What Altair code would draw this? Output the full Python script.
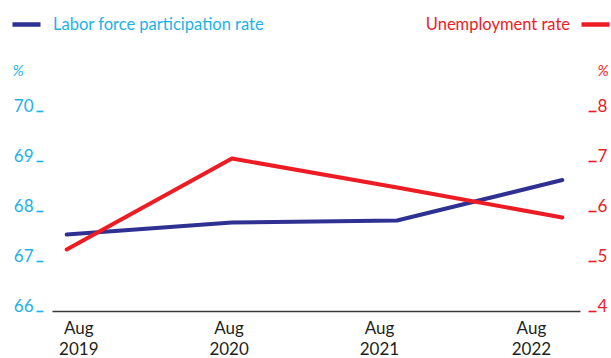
import altair as alt
import pandas as pd

# Annual August readings
periods = ["Aug 2019", "Aug 2020", "Aug 2021", "Aug 2022"]
participation = [67.53, 67.77, 67.81, 68.62]   # labor force participation rate, %
unemployment = [5.23, 7.05, 6.47, 5.87]        # unemployment rate, %

series_names = ["Labor force participation rate", "Unemployment rate"]

BLUE_LINE = "#2e3192"
BLUE_TEXT = "#1cb2e8"
RED = "#ed1c24"
DARK = "#231f20"
FONT = "Lato"

df = pd.DataFrame({
    "idx": list(range(len(periods))),
    "period": periods,
    "lfpr": participation,
    "unemp": unemployment,
    "s1": series_names[0],
    "s2": series_names[1],
})

period_list = "[" + ",".join("'" + p + "'" for p in periods) + "]"

x_enc = alt.X(
    "idx:Q",
    scale=alt.Scale(domain=[-0.089, 3.107], nice=False, zero=False),
    axis=alt.Axis(
        title=None,
        values=[0.07, 0.98, 1.89, 2.81],
        labelExpr="split(" + period_list + "[round(datum.value)], ' ')",
        grid=False,
        ticks=False,
        domain=True,
        domainColor="#3a3a3a",
        domainWidth=1.3,
        labelFont=FONT,
        labelFontSize=17,
        labelColor=DARK,
        labelLineHeight=21,
        labelPadding=9,
        labelAngle=0,
        labelBaseline="top",
    ),
)

left = alt.Chart(df).mark_line(strokeWidth=4, strokeCap="round", strokeJoin="round").encode(
    x=x_enc,
    y=alt.Y(
        "lfpr:Q",
        scale=alt.Scale(domain=[66, 70], nice=False, zero=False),
        axis=alt.Axis(
            orient="left",
            values=[66, 67, 68, 69, 70],
            title="%",
            titleAngle=0,
            titleAlign="left",
            titleBaseline="alphabetic",
            titleX=-31,
            titleY=-36,
            titleFont=FONT,
            titleFontSize=15,
            titleFontStyle="italic",
            titleFontWeight="normal",
            titleColor=BLUE_TEXT,
            grid=False,
            domain=False,
            offset=9,
            tickSize=7,
            tickWidth=1.6,
            tickColor=BLUE_TEXT,
            labelBaseline="alphabetic",
            labelPadding=3,
            labelFont=FONT,
            labelFontSize=17,
            labelColor=BLUE_TEXT,
        ),
    ),
    color=alt.Color(
        "s1:N",
        scale=alt.Scale(domain=[series_names[0]], range=[BLUE_LINE]),
        legend=alt.Legend(
            title=None,
            orient="none",
            legendX=-42,
            legendY=-103,
            padding=0,
            symbolType="stroke",
            symbolSize=784,
            symbolStrokeWidth=4.5,
            labelOffset=10,
            labelFont=FONT,
            labelFontSize=16.5,
            labelColor=BLUE_TEXT,
            labelLimit=400,
        ),
    ),
)

right = alt.Chart(df).mark_line(strokeWidth=4, strokeCap="round", strokeJoin="round").encode(
    x=x_enc,
    y=alt.Y(
        "unemp:Q",
        scale=alt.Scale(domain=[4, 8], nice=False, zero=False),
        axis=alt.Axis(
            orient="right",
            values=[4, 5, 6, 7, 8],
            title="%",
            titleAngle=0,
            titleAlign="left",
            titleBaseline="alphabetic",
            titleX=9,
            titleY=-36,
            titleFont=FONT,
            titleFontSize=15,
            titleFontStyle="italic",
            titleFontWeight="normal",
            titleColor=RED,
            grid=False,
            domain=False,
            offset=8,
            tickSize=8,
            tickWidth=1.6,
            tickColor=RED,
            labelBaseline="alphabetic",
            labelPadding=1,
            labelFont=FONT,
            labelFontSize=17,
            labelColor=RED,
        ),
    ),
    color=alt.Color(
        "s2:N",
        scale=alt.Scale(domain=[series_names[1]], range=[RED]),
        legend=alt.Legend(
            title=None,
            orient="none",
            legendX=527,
            legendY=-103,
            padding=0,
            symbolType="stroke",
            symbolSize=784,
            symbolStrokeWidth=4.5,
            # label sits to the left of the stroke symbol
            labelOffset=alt.ExprRef(expr="-42"),
            labelAlign="right",
            labelFont=FONT,
            labelFontSize=16.5,
            labelColor=RED,
            labelLimit=400,
        ),
    ),
)

chart = (
    alt.layer(left, right)
    .resolve_scale(y="independent", color="independent")
    .resolve_legend(color="independent")
    .properties(
        width=528,
        height=200,
        autosize=alt.AutoSizeParams(type="none"),
        padding={"left": 52, "top": 111, "right": 31, "bottom": 47},
        background="white",
    )
    .configure_view(stroke=None)
)

chart.save("out.html", embed_options={"renderer": "svg", "actions": False})
